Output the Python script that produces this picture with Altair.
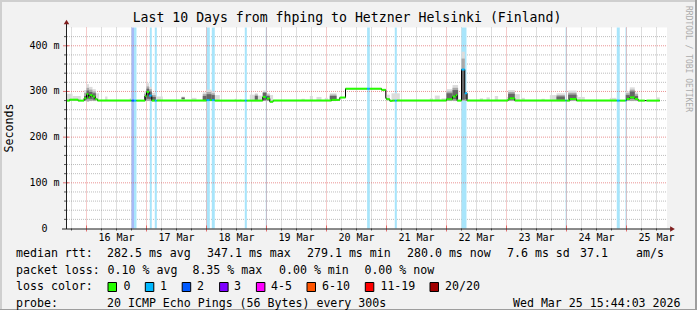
import altair as alt
import pandas as pd

# ---------------- data (time = decimal day of March) ----------------
T_START = 15.675
T_END = 25.675

# median RTT step series: start time, value (ms), loss level (-1 = unknown)
med_t = [15.675, 15.72, 15.86, 15.96, 16.0, 16.033, 16.06, 16.1, 16.143, 16.183,
         16.75, 16.792, 16.833, 16.977, 17.0, 17.043, 17.088, 17.138, 17.172,
         18.0, 18.055, 18.088, 18.138, 18.638, 18.672, 18.938, 18.988, 19.0,
         19.055, 19.11, 20.083, 20.222, 20.317, 20.677, 20.722, 20.917, 20.988,
         21.0, 21.055, 21.1, 21.138, 21.172, 22.0, 22.1, 22.155, 22.177, 22.25,
         22.305, 22.343, 23.027, 23.055, 23.138, 23.985, 24.002, 24.055, 24.167,
         24.838, 24.888, 24.983, 25.0, 25.055, 25.138, 25.193, 25.305, 25.333]
med_v = [280, 282, 280, 285, 294, 287, 292, 289, 283, 280,
         280, 280, 280, 290, 299, 291, 280, 280, 280,
         281, 281, 281, 280, 280, 280, 288, 288, 284.5,
         277.5, 280, 281.6, 286.7, 306, 306, 306, 303.5, 285,
         283, 279.5, 280, 280, 280, 283, 289, 292, 280, 348,
         296, 280, 283, 285, 280, 280, 280, 283.5, 280,
         280, 280, 280, 283.5, 287, 283.5, 280, 280, 280]
med_loss = [0, 0, 0, 0, 0, 0, 0, 0, 0, 0,
            2, 1, 0, 0, 0, 1, 0, 1, 0,
            1, 0, 1, 0, 1, 0, 0, 1, 0,
            0, 0, 0, 0, 0, 1, 0, 0, 0,
            0, 0, 0, 1, 0, 0, 0, 0, 0, 1,
            1, 0, 0, 0, 0, 1, 0, 0, 0,
            1, 0, 1, 0, 0, 0, 0, -1, 0]
MED_LAST = 25.555

# packet-loss background bands
loss_t0 = [16.75, 16.792, 17.055, 17.138, 18.0, 18.088, 18.638, 18.988, 20.677,
           21.138, 22.25, 23.985, 24.838, 24.983]
loss_t1 = [16.792, 16.833, 17.088, 17.172, 18.055, 18.138, 18.672, 19.005, 20.722,
           21.172, 22.333, 24.002, 24.888, 25.0]
loss_lvl = ["2", "1", "1", "1", "1", "1", "1", "1", "1", "1", "1", "1", "1", "1"]

# smoke (ping distribution): outer range, mid range and darker core range
sm_t0 = [15.675, 15.767, 15.96, 16.0, 16.043, 16.10, 16.155, 16.31, 16.72, 16.96,
         17.0, 17.043, 17.088, 17.155, 17.583, 17.75, 17.938, 18.0, 18.083, 18.138,
         18.472, 18.555, 18.722, 18.805, 18.855, 18.938, 19.0, 19.055, 19.583, 19.722,
         19.833, 19.972, 20.055, 21.0, 21.083, 21.722, 21.805, 21.917, 22.0, 22.1,
         22.25, 22.305, 22.555, 22.667, 22.805, 23.0, 23.027, 23.138, 23.25, 23.583,
         23.722, 23.833, 24.027, 24.167, 24.193, 24.722, 24.988, 25.055, 25.138, 25.5]
sm_t1 = [15.767, 15.905, 16.0, 16.043, 16.10, 16.155, 16.21, 16.35, 16.75, 17.0,
         17.043, 17.088, 17.155, 17.272, 17.638, 17.833, 18.0, 18.083, 18.138, 18.222,
         18.5, 18.583, 18.805, 18.855, 18.922, 19.0, 19.055, 19.11, 19.638, 19.772,
         19.917, 20.022, 20.167, 21.055, 21.222, 21.772, 21.888, 22.0, 22.1, 22.193,
         22.305, 22.343, 22.61, 22.722, 22.86, 23.027, 23.138, 23.222, 23.305, 23.638,
         23.833, 23.972, 24.167, 24.193, 24.305, 24.833, 25.055, 25.138, 25.193, 25.555]
sm_lo = [279, 279, 279, 278, 279, 279, 279, 279, 279, 279,
         279, 279, 279, 279, 279, 279, 279, 279, 279, 279,
         279, 279, 279, 279, 279, 279, 279, 277, 279, 279,
         279, 279, 279, 280, 279, 279, 279, 279, 279, 279,
         280, 279, 279, 279, 279, 279, 279, 279, 279, 279,
         279, 279, 279, 279, 279, 279, 279, 279, 279, 279]
sm_hi = [295, 290, 303, 316, 310, 305, 296, 289, 285, 300,
         318, 310, 297, 289, 289, 286, 298, 304, 300, 292,
         284, 283, 293, 296, 291, 302, 296, 292, 284, 290,
         288, 286, 296, 293, 296, 285, 291, 285, 305, 314,
         387, 300, 285, 287, 290, 288, 303, 294, 286, 284,
         292, 296, 302, 292, 288, 286, 300, 309, 298, 287]
sm_mhi = [None, None, 297, 308, 304, 300, None, None, None, 295,
          311, 305, 292, None, None, None, 294, 299, 296, None,
          None, None, None, 293, None, 299, 293, None, None, None,
          None, None, 293, None, None, None, None, None, 300, 308,
          372, 298, None, None, None, None, 299, None, None, None,
          None, 292, 297, None, None, None, 296, 304, 294, None]
sm_clo = [None, None, 281, 284, 283, 282, None, None, None, 281,
          284, 283, 281, None, 283, None, 281, 281, 281, None,
          None, None, None, 282, None, 281, 281, None, None, None,
          None, None, 282, None, None, None, None, None, 282, 283,
          282, 283, None, None, None, None, 282, None, None, None,
          None, 282, 282, None, None, None, 282, 284, 282, None]
sm_chi = [None, None, 290, 302, 299, 296, None, None, None, 290,
          306, 300, 288, None, 287, None, 290, 294, 292, None,
          None, None, None, 290, None, 297, 290, None, None, None,
          None, None, 290, None, None, None, None, None, 296, 303,
          348, 296, None, None, None, None, 295, None, None, None,
          None, 289, 293, None, None, None, 292, 300, 290, None]

day_names = ["16 Mar", "17 Mar", "18 Mar", "19 Mar", "20 Mar",
             "21 Mar", "22 Mar", "23 Mar", "24 Mar", "25 Mar"]
day_start = [16, 17, 18, 19, 20, 21, 22, 23, 24, 25]
y_major = [0, 100, 200, 300, 400]
y_major_lbl = ["0", "100", "200", "300", "400"]
y_unit = ["", "m", "m", "m", "m"]

title = "Last 10 Days from fhping to Hetzner Helsinki (Finland)"
stat_rows = [
    ["median rtt:", "282.5 ms avg", "347.1 ms max", "279.1 ms min", "280.0 ms now",
     "7.6 ms sd", "37.1", "am/s"],
    ["packet loss:", "0.10 % avg", "8.35 % max", "0.00 % min", "0.00 % now"],
]
loss_names = ["0", "1", "2", "3", "4-5", "6-10", "11-19", "20/20"]
loss_colors = ["#26ff00", "#00b8ff", "#0059ff", "#7e00ff", "#ff00ff",
               "#ff5500", "#ff0000", "#a10000"]
probe_text = "20 ICMP Echo Pings (56 Bytes) every 300s"
date_text = "Wed Mar 25 15:44:03 2026"

# ---------------- layout ----------------
W, H = 600, 201
PL, PT = 67, 27.5
FONT = "DejaVu Sans Mono"

xs = alt.Scale(domain=[T_START, T_END], nice=False, zero=False)
ys = alt.Scale(domain=[0, 440], nice=False, zero=False)
one = pd.DataFrame({"a": [0]})


def X(f):
    return alt.X(f, type="quantitative", scale=xs, axis=None)


def Y(f):
    return alt.Y(f, type="quantitative", scale=ys, axis=None)


layers = []

# outer frame
layers.append(alt.Chart(one).mark_rule(color="#cfcfcf", strokeWidth=2).encode(
    x=alt.value(-PL), x2=alt.value(W + 30), y=alt.value(-PT + 1)))
layers.append(alt.Chart(one).mark_rule(color="#cfcfcf", strokeWidth=2).encode(
    x=alt.value(-PL + 1), y=alt.value(-PT), y2=alt.value(H + 82)))
layers.append(alt.Chart(one).mark_rule(color="#9e9e9e", strokeWidth=2).encode(
    x=alt.value(-PL), x2=alt.value(W + 30), y=alt.value(H + 81.5)))
layers.append(alt.Chart(one).mark_rule(color="#9e9e9e", strokeWidth=2).encode(
    x=alt.value(W + 29), y=alt.value(-PT), y2=alt.value(H + 82)))

# minor grid
minor_x = [15.75 + 0.25 * i for i in range(40) if (15.75 + 0.25 * i) % 1 != 0]
minor_y = [v for v in range(20, 440, 20) if v % 100 != 0]
layers.append(alt.Chart(pd.DataFrame({"t": minor_x})).mark_rule(
    color="#8f8f8f", opacity=0.6, strokeDash=[1, 1], strokeWidth=1).encode(
    x=X("t"), y=alt.value(0), y2=alt.value(H)))
layers.append(alt.Chart(pd.DataFrame({"v": minor_y})).mark_rule(
    color="#8f8f8f", opacity=0.6, strokeDash=[1, 1], strokeWidth=1).encode(
    y=Y("v"), x=alt.value(0), x2=alt.value(W)))

# loss bands
loss_df = pd.DataFrame({"t0": loss_t0, "t1": loss_t1, "lvl": loss_lvl})
layers.append(alt.Chart(loss_df).mark_rect().encode(
    x=X("t0"), x2="t1", y=alt.value(0), y2=alt.value(H),
    color=alt.Color("lvl:N", scale=alt.Scale(domain=["1", "2"],
                                             range=["#a8e5fb", "#a6b9f6"]),
                    legend=None)))

# major grid
layers.append(alt.Chart(pd.DataFrame({"t": day_start})).mark_rule(
    color="#de4f4f", opacity=0.6, strokeDash=[1, 1], strokeWidth=1).encode(
    x=X("t"), y=alt.value(0), y2=alt.value(H)))
layers.append(alt.Chart(pd.DataFrame({"v": y_major[1:]})).mark_rule(
    color="#de4f4f", opacity=0.6, strokeDash=[1, 1], strokeWidth=1).encode(
    y=Y("v"), x=alt.value(0), x2=alt.value(W)))

# smoke
sm_df = pd.DataFrame({"t0": sm_t0, "t1": sm_t1, "lo": sm_lo, "hi": sm_hi,
                      "mhi": sm_mhi, "clo": sm_clo, "chi": sm_chi})
layers.append(alt.Chart(sm_df).mark_rect(color="#dcdcdc").encode(
    x=X("t0"), x2="t1", y=Y("lo"), y2="hi"))
mid_df = sm_df.dropna(subset=["mhi"])
layers.append(alt.Chart(mid_df).mark_rect(color="#a9a9a9").encode(
    x=X("t0"), x2="t1", y=Y("lo"), y2="mhi"))
core_df = sm_df.dropna(subset=["clo"])
layers.append(alt.Chart(core_df).mark_rect(color="#666666").encode(
    x=X("t0"), x2="t1", y=Y("clo"), y2="chi"))

# median: black step line underneath, coloured horizontal segments on top
line_df = pd.DataFrame({"t": med_t + [MED_LAST], "v": med_v + [med_v[-1]]})
layers.append(alt.Chart(line_df).mark_line(
    interpolate="step-after", color="#000000", strokeWidth=1).encode(
    x=X("t"), y=Y("v")))
seg_df = pd.DataFrame({"t0": med_t, "t1": med_t[1:] + [MED_LAST],
                       "v": med_v, "loss": [str(v) for v in med_loss]})
seg_df = seg_df[seg_df["loss"] != "-1"]
layers.append(alt.Chart(seg_df).mark_rule(strokeWidth=2).encode(
    x=X("t0"), x2="t1", y=Y("v"),
    color=alt.Color("loss:N", scale=alt.Scale(domain=["0", "1", "2"],
                                              range=loss_colors[:3]),
                    legend=None)))

# axis ticks
layers.append(alt.Chart(pd.DataFrame({"v": minor_y})).mark_rule(
    color="#555555", strokeWidth=1).encode(
    y=Y("v"), x=alt.value(-3), x2=alt.value(-0.5)))
layers.append(alt.Chart(pd.DataFrame({"v": y_major[1:]})).mark_rule(
    color="#de4f4f", opacity=0.8, strokeWidth=1).encode(
    y=Y("v"), x=alt.value(-4), x2=alt.value(2)))
layers.append(alt.Chart(pd.DataFrame({"t": minor_x})).mark_rule(
    color="#555555", strokeWidth=1).encode(
    x=X("t"), y=alt.value(H), y2=alt.value(H + 2)))
layers.append(alt.Chart(pd.DataFrame({"t": day_start})).mark_rule(
    color="#de4f4f", opacity=0.8, strokeWidth=1).encode(
    x=X("t"), y=alt.value(H - 3), y2=alt.value(H + 3)))

# axis lines and arrows
layers.append(alt.Chart(one).mark_rule(color="#1f1f1f", strokeWidth=1).encode(
    x=alt.value(-0.5), y=alt.value(H + 0.5), y2=alt.value(-4)))
layers.append(alt.Chart(one).mark_rule(color="#1f1f1f", strokeWidth=1).encode(
    y=alt.value(H + 0.5), x=alt.value(-5), x2=alt.value(W + 4)))
layers.append(alt.Chart(one).mark_point(
    shape="triangle-up", filled=True, color="#801f1f", size=30, opacity=1).encode(
    x=alt.value(-0.5), y=alt.value(-5.5)))
layers.append(alt.Chart(one).mark_point(
    shape="triangle-right", filled=True, color="#801f1f", size=30, opacity=1).encode(
    x=alt.value(W + 5.5), y=alt.value(H + 0.5)))

# axis labels
day_df = pd.DataFrame({"t": [d + 0.5 for d in day_start], "lbl": day_names})
layers.append(alt.Chart(day_df).mark_text(
    font=FONT, fontSize=10, color="#000000", baseline="middle").encode(
    x=X("t"), y=alt.value(238 - PT), text="lbl:N"))
ylab_df = pd.DataFrame({"v": y_major, "num": y_major_lbl, "unit": y_unit})
layers.append(alt.Chart(ylab_df).mark_text(
    font=FONT, fontSize=10, color="#000000", align="right", baseline="middle").encode(
    y=Y("v"), x=alt.value(47.5 - PL), text="num:N"))
layers.append(alt.Chart(ylab_df).mark_text(
    font=FONT, fontSize=10, color="#000000", align="left", baseline="middle").encode(
    y=Y("v"), x=alt.value(53.5 - PL), text="unit:N"))

# title, unit, watermark
layers.append(alt.Chart(one).mark_text(
    font=FONT, fontSize=13.2, color="#000000", baseline="middle").encode(
    x=alt.value(347 - PL), y=alt.value(18 - PT), text=alt.value(title)))
layers.append(alt.Chart(one).mark_text(
    font=FONT, fontSize=11.6, color="#000000", baseline="middle", angle=270).encode(
    x=alt.value(10 - PL), y=alt.value(128 - PT), text=alt.value("Seconds")))
layers.append(alt.Chart(one).mark_text(
    font=FONT, fontSize=8, color="#ababab", baseline="middle", align="left",
    angle=90).encode(
    x=alt.value(688 - PL), y=alt.value(6 - PT),
    text=alt.value("RRDTOOL / TOBI OETIKER")))

# legend text
row_y = [254, 270.5, 287, 303.5]
row0_x = [16, 107, 207, 307, 407, 507, 580, 636]
row1_x = [16, 107.6, 192.4, 279, 364.4]
txt = []
for s, x in zip(stat_rows[0], row0_x):
    txt.append({"px": x - PL, "py": row_y[0] - PT, "s": s})
for s, x in zip(stat_rows[1], row1_x):
    txt.append({"px": x - PL, "py": row_y[1] - PT, "s": s})
txt.append({"px": 16 - PL, "py": row_y[2] - PT, "s": "loss color:"})
txt.append({"px": 16 - PL, "py": row_y[3] - PT, "s": "probe:"})
txt.append({"px": 107 - PL, "py": row_y[3] - PT, "s": probe_text})
sq_x = [108, 145.3, 182.2, 219.6, 256.4, 307, 365.3, 430]
lb_x = [123.6, 160, 197, 234, 271, 322, 380.4, 445]
for s, x in zip(loss_names, lb_x):
    txt.append({"px": x - PL, "py": row_y[2] - PT, "s": s})
txt_df = pd.DataFrame(txt)
layers.append(alt.Chart(txt_df).mark_text(
    font=FONT, fontSize=11.6, color="#000000", align="left", baseline="middle").encode(
    x=alt.X("px:Q", scale=None), y=alt.Y("py:Q", scale=None), text="s:N"))
layers.append(alt.Chart(one).mark_text(
    font=FONT, fontSize=11.6, color="#000000", align="right", baseline="middle").encode(
    x=alt.value(680.5 - PL), y=alt.value(row_y[3] - PT), text=alt.value(date_text)))

sq_df = pd.DataFrame({"x0": [x - PL for x in sq_x], "x1": [x - PL + 8.5 for x in sq_x],
                      "c": loss_names})
layers.append(alt.Chart(sq_df).mark_rect(stroke="#000000", strokeWidth=1).encode(
    x=alt.X("x0:Q", scale=None), x2="x1:Q",
    y=alt.value(row_y[2] - PT - 4.5), y2=alt.value(row_y[2] - PT + 4.5),
    color=alt.Color("c:N", scale=alt.Scale(domain=loss_names, range=loss_colors),
                    legend=None)))

chart = alt.layer(*layers).resolve_scale(color="independent").properties(
    width=W, height=H,
    padding={"left": PL, "top": PT, "right": 697 - PL - W, "bottom": 310 - PT - H},
    autosize=alt.AutoSizeParams(type="none"),
    background="#f2f2f2",
).configure_view(stroke=None, fill="#ffffff")

chart.save("out.html", embed_options={"renderer": "svg", "actions": False})
